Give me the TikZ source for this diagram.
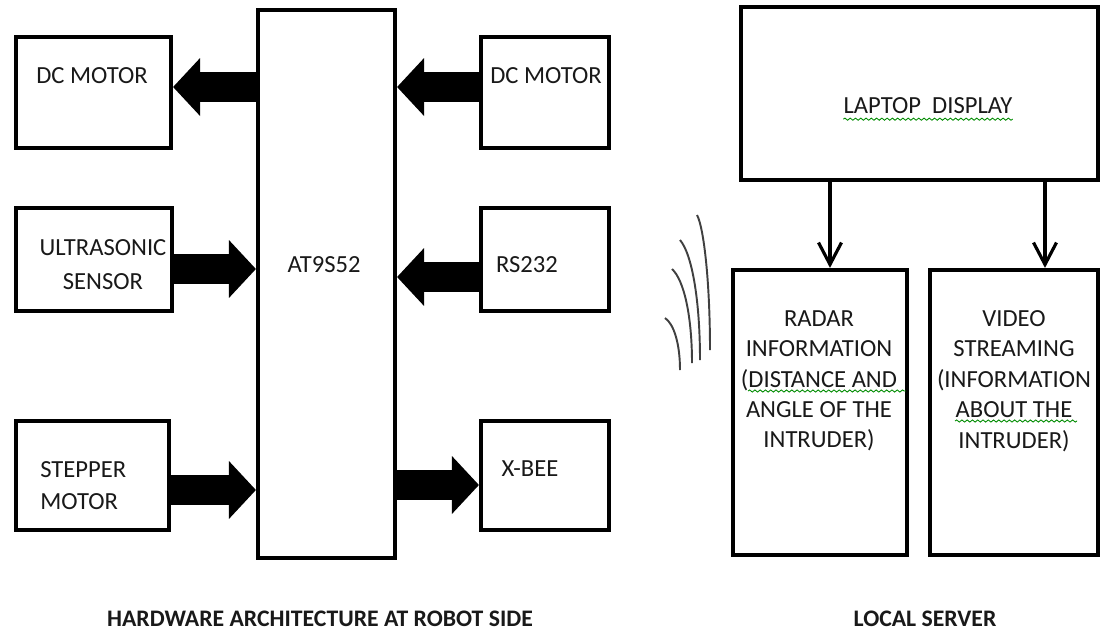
\documentclass[tikz,border=0pt]{standalone}
\usepackage{fontspec}
\setmainfont{Carlito}
\usetikzlibrary{arrows.meta, decorations.pathmorphing}

\begin{document}
\begin{tikzpicture}[
    x=0.02cm, y=-0.02cm,
    % Block styles
    block/.style={
      rectangle, draw=black, line width=2.4pt, fill=white,
      inner sep=0pt
    },
    lbl/.style={
      font=\fontsize{14}{17.3}\selectfont, text=black!90,
      align=center, inner sep=0pt
    },
    caption/.style={font=\fontsize{13.5}{16}\selectfont\bfseries, text=black!90,
      inner sep=0pt},
    bigarrow/.style={line width=0.6cm,
      -{Triangle[length=0.54cm, width=1.16cm, line width=0pt]}},
    thinarrow/.style={line width=1.8pt,
      -{Straight Barb[length=0.44cm, width=0.46cm]}},
    wave/.style={draw=black!75, line width=1.1pt},
    squiggle/.style={draw=green!55!black, line width=0.5pt, decorate,
      decoration={snake, amplitude=0.6pt, segment length=3pt}},
  ]
  \useasboundingbox (0,0) rectangle (1110,633);

  % === Robot side ===
  \node[block, minimum width=3.10cm, minimum height=2.22cm] (dcl) at (93.5,92.5) {};
  \node[block, minimum width=3.12cm, minimum height=2.06cm] (ultra) at (94,259.5) {};
  \node[block, minimum width=3.06cm, minimum height=2.18cm] (stepper) at (92.5,475.5) {};
  \node[block, minimum width=2.74cm, minimum height=10.96cm] (mcu) at (326.5,284) {};
  \node[block, minimum width=2.56cm, minimum height=2.22cm] (dcr) at (545,92.5) {};
  \node[block, minimum width=2.56cm, minimum height=2.06cm] (rs) at (545,259.5) {};
  \node[block, minimum width=2.56cm, minimum height=2.18cm] (xbee) at (545,475.5) {};

  \node[lbl] (dclT) at (92,76) {DC MOTOR};
  \node[lbl] (ultraT) at (103,265) {ULTRASONIC\\[2pt]SENSOR};
  \node[lbl, anchor=west, align=left] (stepperT) at (40,485.5) {STEPPER\\[1pt]MOTOR};
  \node[lbl] (mcuT) at (324,265) {AT9S52};
  \node[lbl] (dcrT) at (546,76) {DC MOTOR};
  \node[lbl] (rsT) at (527,265) {RS232};
  \node[lbl] (xbeeT) at (530,469) {X-BEE};

  % block arrows
  \draw[bigarrow, transform canvas={yshift=0.11cm}] (mcu.west |- dcl.east) -- (dcl.east);
  \draw[bigarrow, transform canvas={yshift=-0.19cm}] (ultra.east) -- (mcu.west |- ultra.east);
  \draw[bigarrow, transform canvas={yshift=-0.29cm}] (stepper.east) -- (mcu.west |- stepper.east);
  \draw[bigarrow, transform canvas={yshift=0.11cm}] (dcr.west) -- (mcu.east |- dcr.west);
  \draw[bigarrow, transform canvas={yshift=-0.35cm}] (rs.west) -- (mcu.east |- rs.west);
  \draw[bigarrow, transform canvas={yshift=-0.19cm}] (mcu.east |- xbee.west) -- (xbee.west);

  % wireless link
  \draw[wave] (665,318) .. controls (674,324) and (680,344) .. (680,370);
  \draw[wave] (672,269) .. controls (684,280) and (692,316) .. (692,363);
  \draw[wave] (680,240) .. controls (692,254) and (700,300) .. (700,360);
  \draw[wave] (697,215) .. controls (704,228) and (710,283) .. (710,350);

  % === Local server ===
  \node[block, minimum width=7.14cm, minimum height=3.46cm] (laptop) at (919.5,93.5) {};
  \node[block, minimum width=3.48cm, minimum height=5.70cm] (radar) at (820,412.5) {};
  \node[block, minimum width=3.36cm, minimum height=5.70cm] (video) at (1014,412.5) {};

  \node[lbl] (laptopT) at (928,106) {LAPTOP\ \ DISPLAY};
  \node[lbl] (radarT) at (819,381) {RADAR\\INFORMATION\\(DISTANCE AND\\ANGLE OF THE\\INTRUDER)};
  \node[lbl] (videoT) at (1014,381) {VIDEO\\STREAMING\\(INFORMATION\\ABOUT THE\\INTRUDER)};

  \draw[squiggle] ([yshift=-3pt]laptopT.base west) -- ([yshift=-3pt]laptopT.base east);
  \draw[squiggle] (748,391) -- (906,391);
  \draw[squiggle] (955,421) -- (1077,421);

  \draw[thinarrow, transform canvas={xshift=0.2cm}] (radar.north |- laptop.south) -- (radar.north);
  \draw[thinarrow, transform canvas={xshift=0.62cm}] (video.north |- laptop.south) -- (video.north);

  % captions
  \node[caption] (robotCap) at (320,619) {HARDWARE ARCHITECTURE AT ROBOT SIDE};
  \node[caption] (serverCap) at (925,619) {LOCAL SERVER};

\end{tikzpicture}
\end{document}
